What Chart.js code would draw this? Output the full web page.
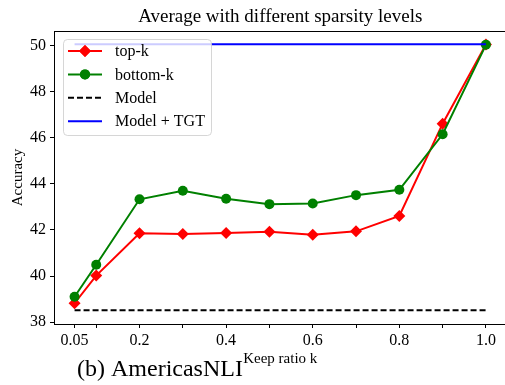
<!DOCTYPE html>
<html>
<head>
<meta charset="utf-8">
<script src="https://cdn.jsdelivr.net/npm/chart.js@4.4.1/dist/chart.umd.min.js"></script>
<style>
    html, body { margin: 0; padding: 0; background: #fff; overflow: hidden; }
    #wrap { position: absolute; left: 0; top: 0; width: 510px; height: 385px; }
</style>
</head>
<body>
<div id="wrap"><canvas id="chart" width="510" height="385"></canvas></div>
<script>
var keepRatio = [0.05, 0.1, 0.2, 0.3, 0.4, 0.5, 0.6, 0.7, 0.8, 0.9, 1.0];
var topK = [38.82, 40.02, 41.86, 41.82, 41.87, 41.92, 41.79, 41.94, 42.61, 46.61, 50.04];
var bottomK = [39.1, 40.49, 43.33, 43.7, 43.35, 43.12, 43.15, 43.51, 43.74, 46.15, 50.03];
var modelScore = 38.52;
var modelTgtScore = 50.05;
var xTickLabels = ['0.05', '', '0.2', '', '0.4', '', '0.6', '', '0.8', '', '1.0'];
var yTicks = [38, 40, 42, 44, 46, 48, 50];

var serif = '"Liberation Serif", "Times New Roman", serif';

function toPoints(xs, ys) {
    return xs.map(function (x, i) { return { x: x, y: ys[i] }; });
}

// titre centré sur la zone de tracé, cadre, légende dans le graphe, sous-titre
var extras = {
    id: 'extras',
    afterDraw: function (chart) {
        var ctx = chart.ctx;
        var a = chart.chartArea;
        ctx.save();
        ctx.strokeStyle = '#000';
        ctx.lineWidth = 1;
        ctx.beginPath();
        ctx.moveTo(a.left, a.top + 0.5);
        ctx.lineTo(a.right, a.top + 0.5);
        ctx.lineTo(a.right, a.bottom);
        ctx.stroke();

        ctx.fillStyle = '#000';
        ctx.font = '19px ' + serif;
        ctx.textAlign = 'center';
        ctx.textBaseline = 'alphabetic';
        ctx.fillText('Average with different sparsity levels', (a.left + a.right) / 2, 21.5);

        // légende
        var bx = 63, by = 39, bw = 148, bh = 96, r = 4;
        ctx.globalAlpha = 0.8;
        ctx.fillStyle = '#fff';
        ctx.strokeStyle = '#ccc';
        ctx.beginPath();
        ctx.roundRect(bx + 0.5, by + 0.5, bw, bh, r);
        ctx.fill();
        ctx.stroke();
        ctx.globalAlpha = 1;

        chart.data.datasets.forEach(function (ds, i) {
            var y = 51 + i * 23.4;
            ctx.strokeStyle = ds.borderColor;
            ctx.lineWidth = ds.borderWidth;
            ctx.setLineDash(ds.borderDash || []);
            ctx.beginPath();
            ctx.moveTo(68, y);
            ctx.lineTo(102, y);
            ctx.stroke();
            ctx.setLineDash([]);
            if (ds.pointRadius > 0) {
                ctx.fillStyle = ds.pointBackgroundColor;
                Chart.helpers.drawPoint(ctx, { pointStyle: ds.pointStyle, radius: ds.pointRadius, borderWidth: 0 }, 85, y);
                ctx.fill();
            }
            ctx.fillStyle = '#000';
            ctx.font = '16px ' + serif;
            ctx.textBaseline = 'middle';
            ctx.textAlign = 'left';
            ctx.fillText(ds.label, 115, y + 1);
        });

        ctx.font = '24px ' + serif;
        ctx.fillStyle = '#000';
        ctx.textAlign = 'left';
        ctx.textBaseline = 'alphabetic';
        ctx.fillText('(b) AmericasNLI', 77, 376);
        ctx.restore();
    }
};

new Chart(document.getElementById('chart').getContext('2d'), {
    type: 'line',
    data: {
        datasets: [{
            label: 'top-k',
            data: toPoints(keepRatio, topK),
            borderColor: '#ff0000',
            backgroundColor: '#ff0000',
            pointBackgroundColor: '#ff0000',
            pointBorderWidth: 0,
            borderWidth: 2,
            pointStyle: 'rectRot',
            pointRadius: 6,
            order: 4
        }, {
            label: 'bottom-k',
            data: toPoints(keepRatio, bottomK),
            borderColor: '#008000',
            backgroundColor: '#008000',
            pointBackgroundColor: '#008000',
            pointBorderWidth: 0,
            borderWidth: 2,
            pointStyle: 'circle',
            pointRadius: 5,
            order: 3
        }, {
            label: 'Model',
            data: toPoints([keepRatio[0], keepRatio[keepRatio.length - 1]], [modelScore, modelScore]),
            borderColor: '#000000',
            borderWidth: 2,
            borderDash: [6, 3],
            pointRadius: 0,
            order: 2
        }, {
            label: 'Model + TGT',
            data: toPoints([keepRatio[0], keepRatio[keepRatio.length - 1]], [modelTgtScore, modelTgtScore]),
            borderColor: '#0000ff',
            borderWidth: 2,
            pointRadius: 0,
            order: 1
        }]
    },
    options: {
        responsive: false,
        animation: false,
        layout: { autoPadding: false, padding: { left: 0, right: 3.5, top: 31, bottom: 0 } },
        plugins: {
            legend: { display: false },
            tooltip: { enabled: false },
            title: { display: false }
        },
        scales: {
            x: {
                type: 'linear',
                min: 0.0025,
                max: 1.0475,
                afterBuildTicks: function (axis) {
                    axis.ticks = keepRatio.map(function (v) { return { value: v }; });
                },
                afterFit: function (axis) {
                    axis.height = 61;
                    axis.paddingLeft = 0;
                    axis.paddingRight = 0;
                },
                ticks: {
                    autoSkip: false,
                    maxRotation: 0,
                    color: '#000',
                    padding: 3,
                    font: { family: serif, size: 16 },
                    callback: function (value, index) { return xTickLabels[index]; }
                },
                grid: { drawOnChartArea: false, tickLength: 4, tickColor: '#000' },
                border: { color: '#000', width: 1 },
                title: {
                    display: true,
                    text: 'Keep ratio k',
                    color: '#000',
                    font: { family: serif, size: 15 },
                    padding: { top: 0, bottom: 17 }
                }
            },
            y: {
                min: 37.92,
                max: 50.63,
                afterBuildTicks: function (axis) {
                    axis.ticks = yTicks.map(function (v) { return { value: v }; });
                },
                afterFit: function (axis) {
                    axis.width = 54;
                    axis.paddingTop = 0;
                    axis.paddingBottom = 0;
                },
                ticks: {
                    color: '#000',
                    padding: 4,
                    font: { family: serif, size: 16 }
                },
                grid: { drawOnChartArea: false, tickLength: 4, tickColor: '#000' },
                border: { color: '#000', width: 1 },
                title: {
                    display: true,
                    text: 'Accuracy',
                    color: '#000',
                    font: { family: serif, size: 15 },
                    padding: { top: 9, bottom: 0 }
                }
            }
        }
    },
    plugins: [extras]
});
</script>
</body>
</html>
